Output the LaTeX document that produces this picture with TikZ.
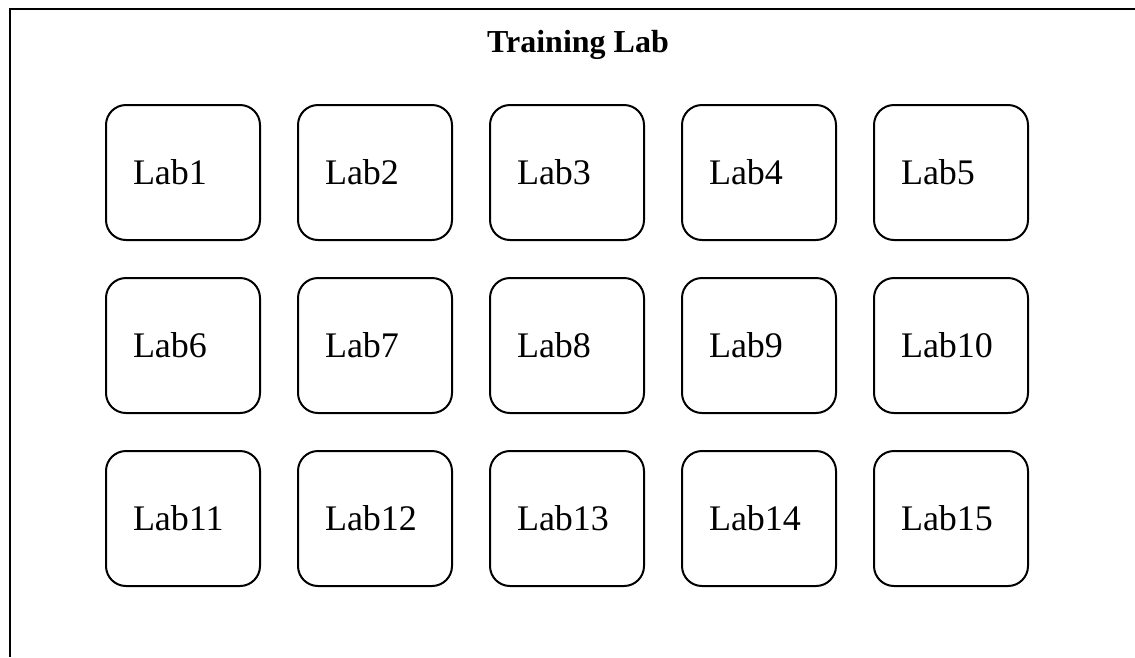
\documentclass[tikz,border=0pt]{standalone}
\usepackage{fontspec}
\setmainfont{Liberation Serif}
\begin{document}
\begin{tikzpicture}[x=1pt,y=-1pt,
  labbox/.style={draw=black, line width=2pt, rounded corners=20pt,
    minimum height=135pt, inner xsep=27pt, inner ysep=0pt, text width=100pt,
    align=left, font=\fontsize{36}{40}\selectfont},
  frameline/.style={draw=black, line width=2.5pt},
  titletext/.style={font=\fontsize{32}{36}\selectfont\bfseries}]
\useasboundingbox (0,0) rectangle (1135,657);
\draw[frameline] (10,657) -- (10,9) -- (1135,9);
\node[titletext, anchor=base] (title) at (578,52) {Training Lab};
\foreach \r in {0,1,2}{
  \foreach \c in {0,1,2,3,4}{
    \pgfmathtruncatemacro{\n}{\r*5+\c+1}
    \node[labbox] (lab\n) at ({183+192*\c},{172.5+173*\r}) {\raisebox{-2pt}{Lab\n}};
  }
}
\end{tikzpicture}
\end{document}
